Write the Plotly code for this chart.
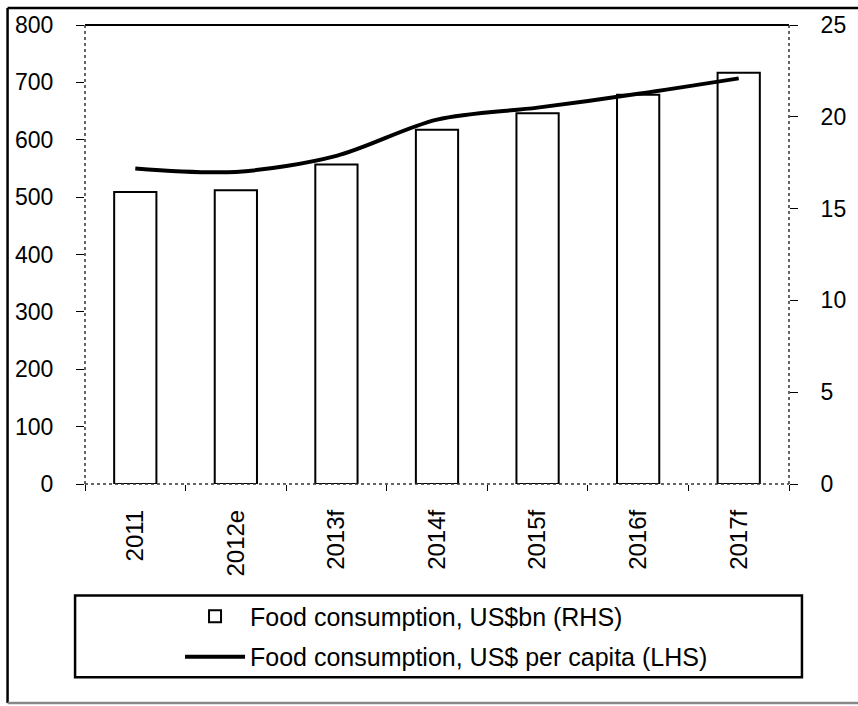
import plotly.graph_objects as go

categories = ["2011", "2012e", "2013f", "2014f", "2015f", "2016f", "2017f"]
food_bn = [15.9, 16.0, 17.4, 19.3, 20.2, 21.2, 22.4]          # RHS, US$bn
food_per_capita = [550, 544, 572, 635, 656, 680, 707]         # LHS, US$ per capita

FONT = "Liberation Sans, Arial, sans-serif"

fig = go.Figure()
fig.add_trace(go.Bar(
    x=categories, y=food_bn, yaxis="y",
    name="Food consumption, US$bn (RHS)",
    marker=dict(color="white", line=dict(color="black", width=2)),
    width=0.42, legendgroup="a",
))
fig.add_trace(go.Scatter(
    x=categories, y=food_per_capita, yaxis="y2",
    name="Food consumption, US$ per capita (LHS)",
    mode="lines", line=dict(color="black", width=4, shape="spline", smoothing=0.9),
    legendgroup="b",
))

fig.update_layout(
    width=858, height=706,
    margin=dict(l=85, r=65, t=23, b=222),
    paper_bgcolor="white", plot_bgcolor="white",
    font=dict(family=FONT, size=22, color="black"),
    showlegend=True,
    legend=dict(
        x=0.135, xanchor="left", y=-0.2385, yanchor="top",
        font=dict(family=FONT, size=25, color="black"),
        itemwidth=60, tracegroupgap=5, traceorder="grouped",
        bgcolor="rgba(0,0,0,0)", borderwidth=0,
    ),
    xaxis=dict(
        type="category", showgrid=False, zeroline=False, showline=False,
        ticks="outside", tickson="boundaries", ticklen=6, tickcolor="black",
        tickangle=-90, tickfont=dict(size=24), ticklabelstandoff=20,
    ),
    yaxis=dict(
        side="right", range=[0, 25], dtick=5, showgrid=False, zeroline=False,
        showline=False, ticks="outside", ticklen=8, tickcolor="black",
        ticklabelstandoff=18, tickfont=dict(size=23),
    ),
    yaxis2=dict(
        overlaying="y", side="left", range=[0, 800], dtick=100, showgrid=False,
        zeroline=False, showline=False, ticks="outside", ticklen=8, tickcolor="black",
        ticklabelstandoff=18, tickfont=dict(size=23),
    ),
    shapes=[
        # plot frame: solid top, dotted left/right/bottom
        dict(type="line", xref="paper", yref="paper", x0=0, x1=1, y0=1, y1=1,
             line=dict(color="black", width=2)),
        dict(type="line", xref="paper", yref="paper", x0=0, x1=0, y0=0, y1=1,
             line=dict(color="#333", width=1.5, dash="dot")),
        dict(type="line", xref="paper", yref="paper", x0=1, x1=1, y0=0, y1=1,
             line=dict(color="#333", width=1.5, dash="dot")),
        dict(type="line", xref="paper", yref="paper", x0=0, x1=1, y0=0, y1=0,
             line=dict(color="#333", width=1.5, dash="dot")),
        # legend box
        dict(type="rect", xref="paper", yref="paper",
             x0=-0.0141, x1=1.0184, y0=-0.243, y1=-0.421,
             line=dict(color="black", width=2.5)),
        # outer chart border (left, top, bottom)
        dict(type="line", xref="paper", yref="paper", x0=-0.110, x1=-0.110, y0=-0.477, y1=1.037,
             line=dict(color="black", width=2.5)),
        dict(type="line", xref="paper", yref="paper", x0=-0.110, x1=1.2, y0=1.037, y1=1.037,
             line=dict(color="black", width=2.5)),
        dict(type="line", xref="paper", yref="paper", x0=-0.110, x1=1.2, y0=-0.477, y1=-0.477,
             line=dict(color="#888", width=2.5)),
    ],
)

fig.write_html("out.html")
